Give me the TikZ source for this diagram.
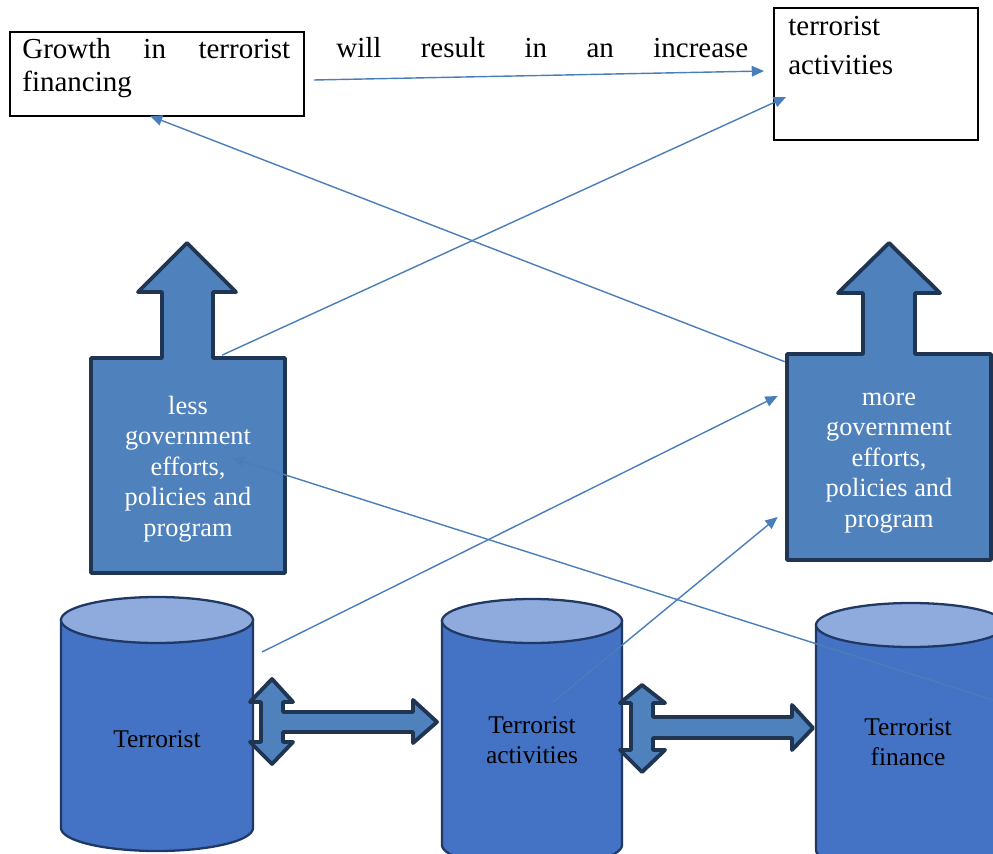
\documentclass[tikz,border=0pt]{standalone}
\usepackage{fontspec}
\setmainfont{Liberation Serif}
\usetikzlibrary{arrows.meta,calc}
\definecolor{shapeblue}{HTML}{4F81BD}
\definecolor{navy}{HTML}{1F3552}
\definecolor{cylblue}{HTML}{4472C4}
\definecolor{cyltop}{HTML}{8FAADC}
\definecolor{cylline}{HTML}{203864}
\definecolor{linkblue}{HTML}{4A7EBB}

\begin{document}
\begin{tikzpicture}[x=0.02cm,y=0.02cm,
callout/.style={fill=shapeblue,draw=navy,line width=2.2pt,line join=round},
duo/.style={fill=shapeblue,draw=navy,line width=2.2pt,line join=round},
cylbody/.style={fill=cylblue,draw=cylline,line width=1.3pt},
cyllid/.style={fill=cyltop,draw=cylline,line width=1.3pt},
topbox/.style={draw,line width=1.1pt,inner sep=0pt},
toptext/.style={font=\fontsize{16.5}{18.7}\selectfont,inner sep=0pt,align=left},
govtext/.style={text=white,align=center,font=\fontsize{15}{17.3}\selectfont},
cyltext/.style={align=center,font=\fontsize{14.5}{17}\selectfont},
link/.style={draw=linkblue,line width=0.8pt,-{Triangle[length=7pt,width=6pt]}}]
\clip (0,0) rectangle (993,-854);
% top statement
\node[topbox,minimum width=5.88cm,minimum height=1.68cm] (grow) at (157,-74) {};
\node[topbox,minimum width=4.08cm,minimum height=2.64cm] (act) at (876,-74) {};
\node[toptext,anchor=north west,text width=5.36cm] (growtext) at (22,-38) {\makebox[5.36cm]{Growth\hfill in\hfill terrorist}\\financing};
\node[toptext,anchor=base west] (joint) at (336,-58) {\makebox[8.24cm][s]{will result in an increase}};
\node[toptext,anchor=north west] (acttext) at (788,-16) {terrorist\\[3.4pt]activities};
% government arrows
\draw[callout] (91,-358) -- (162,-358) -- (162,-292) -- (138,-292) -- (187,-243) -- (236,-292) -- (213,-292) -- (213,-358) -- (285,-358) -- (285,-573) -- (91,-573) -- cycle;
\node[govtext,minimum width=3.88cm,minimum height=4.3cm] (less) at (188,-469) {less\\government\\efforts,\\policies and\\program};
\draw[callout] (787,-354) -- (863,-354) -- (863,-293) -- (838,-293) -- (889,-243) -- (940,-293) -- (915,-293) -- (915,-354) -- (991,-354) -- (991,-560) -- (787,-560) -- cycle;
\node[govtext,minimum width=4.08cm,minimum height=4.12cm] (more) at (889,-463) {more\\government\\efforts,\\policies and\\program};
% cylinders
\foreach \cx/\hw/\ty/\by/\ry in {157/96/620/828/23, 532/90/621/845/22, 911/95/625/850/22}{
  \draw[cylbody] (\cx-\hw,-\ty) -- (\cx-\hw,-\by) arc[start angle=180,end angle=360,x radius=\hw,y radius=\ry] -- (\cx+\hw,-\ty) -- cycle;
  \draw[cyllid] (\cx,-\ty) ellipse[x radius=\hw,y radius=\ry];
}
\node[cyltext] (terr) at (157,-739) {Terrorist};
\node[cyltext] (deeds) at (532,-740) {Terrorist\\activities};
\node[cyltext] (funds) at (908,-742) {Terrorist\\finance};
% two-way block arrows
\draw[duo] (272,-679) -- (293,-702) -- (283,-702) -- (283,-712) -- (413,-712) -- (413,-700) -- (437,-722) -- (413,-743) -- (413,-732) -- (283,-732) -- (283,-742) -- (293,-742) -- (272,-764) -- (250,-742) -- (261,-742) -- (261,-702) -- (250,-702) -- cycle;
\draw[duo] (642,-685) -- (665,-703) -- (653,-703) -- (653,-717) -- (792,-717) -- (792,-705) -- (813,-728) -- (792,-750) -- (792,-738) -- (653,-738) -- (653,-750) -- (665,-750) -- (642,-772) -- (620,-750) -- (631,-750) -- (631,-703) -- (620,-703) -- cycle;
% connectors
\draw[link] ($(grow.east)+(9,-6)$) -- ($(act.west)+(-9,3)$);
\draw[link] ($(less.north)+(34,6)$) -- ($(act.west)+(13,-23)$);
\draw[link] ($(more.north west)+(-2,-2)$) -- ($(grow.south)+(-7,1)$);
\draw[link] ($(terr)+(105,87)$) -- ($(more.west)+(-9,67)$);
\draw[link] ($(deeds)+(21,38)$) -- ($(more.west)+(-9,-54)$);
\draw[link] ($(funds)+(85,42)$) -- ($(less)+(44,11)$);
\end{tikzpicture}
\end{document}
